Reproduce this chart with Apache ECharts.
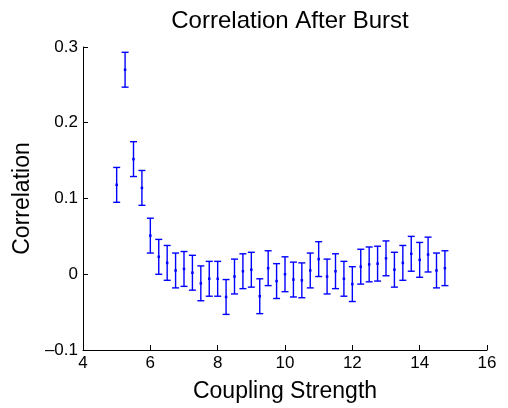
<!DOCTYPE html>
<html><head><meta charset="utf-8">
<script src="https://cdn.jsdelivr.net/npm/echarts@6/dist/echarts.min.js"></script>
<style>html,body{margin:0;padding:0;background:#fff}#c{width:508px;height:408px}</style>
</head><body><div id="c"></div>
<script>
const couplingStrength = [5, 5.25, 5.5, 5.75, 6, 6.25, 6.5, 6.75, 7, 7.25, 7.5, 7.75, 8, 8.25, 8.5, 8.75, 9, 9.25, 9.5, 9.75, 10, 10.25, 10.5, 10.75, 11, 11.25, 11.5, 11.75, 12, 12.25, 12.5, 12.75, 13, 13.25, 13.5, 13.75, 14, 14.25, 14.5, 14.75];
const correlation = [0.118, 0.270, 0.152, 0.114, 0.051, 0.023, 0.015, 0.005, 0.007, 0.002, -0.012, -0.006, -0.006, -0.030, -0.003, 0.004, 0.006, -0.029, 0.008, -0.009, 0.000, -0.007, -0.008, 0.005, 0.020, -0.003, 0.004, -0.006, -0.013, 0.010, 0.013, 0.014, 0.021, 0.006, 0.015, 0.027, 0.019, 0.026, 0.005, 0.008];
const errorHalf = [0.023, 0.023, 0.023, 0.023, 0.023, 0.023, 0.023, 0.023, 0.023, 0.023, 0.023, 0.023, 0.023, 0.023, 0.023, 0.023, 0.023, 0.023, 0.023, 0.023, 0.023, 0.023, 0.023, 0.023, 0.023, 0.023, 0.023, 0.023, 0.023, 0.023, 0.023, 0.023, 0.023, 0.023, 0.023, 0.023, 0.023, 0.023, 0.023, 0.023];
const titleText = 'Correlation After Burst';
const xName = 'Coupling Strength';
const yName = 'Correlation';

const FONT = "'Liberation Sans', Arial, Helvetica, sans-serif";
const BLUE = '#0000ff';
const data = couplingStrength.map((x, i) => [x, correlation[i], errorHalf[i]]);

const chart = echarts.init(document.getElementById('c'), null, {renderer: 'canvas'});
chart.setOption({
  animation: false,
  backgroundColor: '#fff',
  title: {
    text: titleText, left: 285, top: 4, textAlign: 'center',
    textStyle: {fontFamily: FONT, fontSize: 24, fontWeight: 'normal', color: '#000'}
  },
  grid: {left: 83, right: 21, top: 47, bottom: 50, containLabel: false},
  xAxis: {
    type: 'value', min: 4, max: 16, interval: 2,
    name: xName, nameLocation: 'middle', nameGap: 30,
    nameTextStyle: {fontFamily: FONT, fontSize: 23, color: '#000'},
    axisLine: {onZero: false, lineStyle: {color: '#000', width: 1}},
    axisTick: {inside: true, length: 5, lineStyle: {color: '#000'}},
    axisLabel: {fontFamily: FONT, fontSize: 17, color: '#000', margin: 5},
    splitLine: {show: false}
  },
  yAxis: {
    type: 'value', min: -0.1, max: 0.3, interval: 0.1,
    name: yName, nameLocation: 'middle', nameGap: 48,
    nameTextStyle: {fontFamily: FONT, fontSize: 23, color: '#000'},
    axisLine: {show: true, onZero: false, lineStyle: {color: '#000', width: 1}},
    axisTick: {show: true, inside: true, length: 5, lineStyle: {color: '#000'}},
    axisLabel: {
      fontFamily: FONT, fontSize: 17, color: '#000', margin: 5, padding: [0, 0, 6, 0],
      formatter: v => { const r = Math.round(v * 10) / 10; return r === 0 ? '0' : (r < 0 ? '\u2013' : '') + Math.abs(r).toFixed(1); }
    },
    splitLine: {show: false}
  },
  series: [{
    type: 'custom',
    data: data,
    renderItem: function (params, api) {
      const x = api.value(0), y = api.value(1), e = api.value(2);
      const pc = api.coord([x, y]);
      const pt = api.coord([x, y + e]);
      const pb = api.coord([x, y - e]);
      const hw = 3.5;
      const st = {stroke: BLUE, lineWidth: 1.4};
      return {
        type: 'group',
        children: [
          {type: 'line', shape: {x1: pc[0], y1: pt[1], x2: pc[0], y2: pb[1]}, style: st},
          {type: 'line', shape: {x1: pc[0] - hw, y1: pt[1], x2: pc[0] + hw, y2: pt[1]}, style: st},
          {type: 'line', shape: {x1: pc[0] - hw, y1: pb[1], x2: pc[0] + hw, y2: pb[1]}, style: st},
          {type: 'rect', shape: {x: pc[0] - 1.25, y: pc[1] - 1.25, width: 2.5, height: 2.5}, style: {fill: BLUE}}
        ]
      };
    }
  }]
});
</script></body></html>
